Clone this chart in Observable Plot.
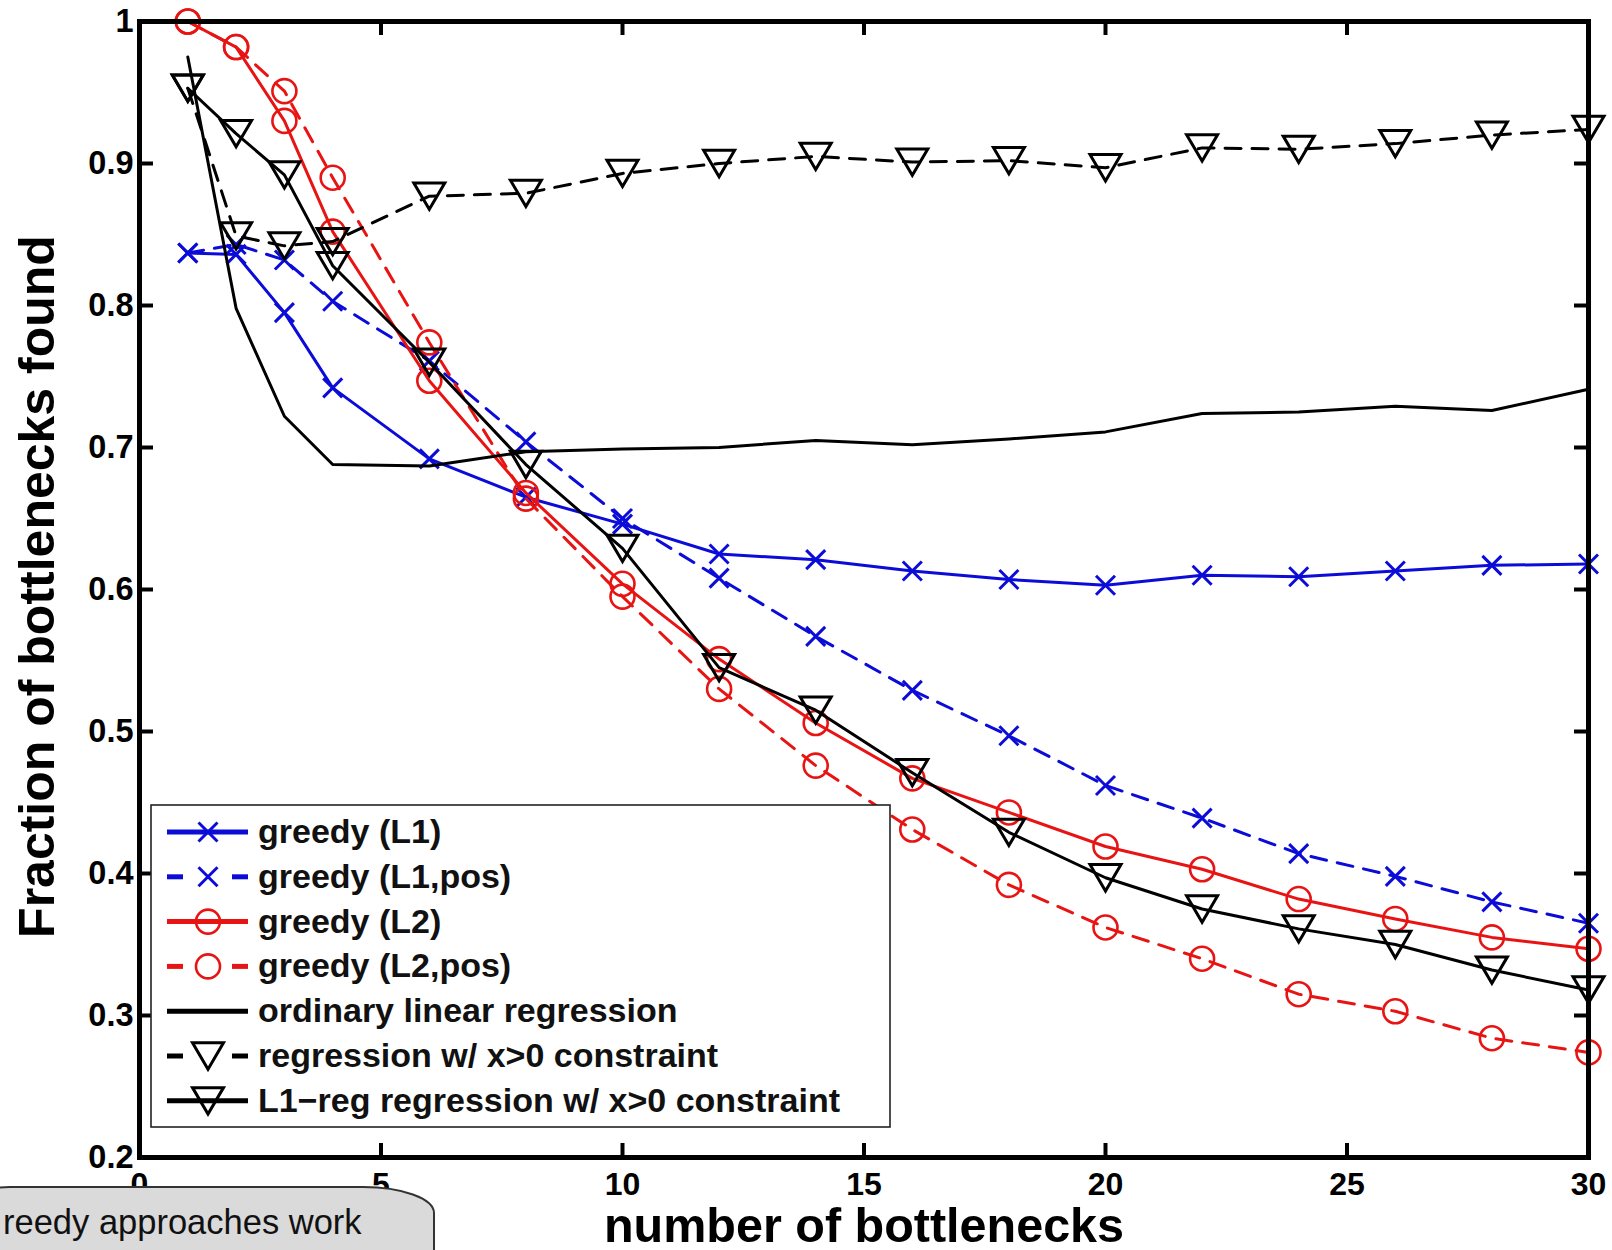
<!DOCTYPE html>
<html>
<head>
<meta charset="utf-8">
<script src="https://cdn.jsdelivr.net/npm/d3@7"></script>
<script src="https://cdn.jsdelivr.net/npm/@observablehq/plot@0.6"></script>
<style>
  html, body { margin: 0; padding: 0; background: #fff; }
  #wrap { position: relative; width: 1612px; height: 1250px; overflow: hidden; }
</style>
</head>
<body>
<div id="wrap"></div>
<script>
// ---------------- data ----------------
const xs = [1, 2, 3, 4, 6, 8, 10, 12, 14, 16, 18, 20, 22, 24, 26, 28, 30];

const greedyL1    = [0.837, 0.836, 0.795, 0.742, 0.692, 0.665, 0.646, 0.625, 0.621, 0.613, 0.607, 0.603, 0.610, 0.609, 0.613, 0.617, 0.618];
const greedyL1pos = [0.837, 0.843, 0.832, 0.803, 0.761, 0.704, 0.650, 0.608, 0.567, 0.529, 0.497, 0.462, 0.439, 0.414, 0.398, 0.380, 0.365];
const greedyL2    = [1.000, 0.982, 0.930, 0.852, 0.747, 0.668, 0.604, 0.551, 0.506, 0.467, 0.443, 0.419, 0.403, 0.382, 0.368, 0.355, 0.347];
const greedyL2pos = [1.000, 0.982, 0.951, 0.890, 0.774, 0.664, 0.595, 0.530, 0.476, 0.431, 0.392, 0.362, 0.340, 0.315, 0.303, 0.284, 0.274];
const ordinaryLR  = [0.975, 0.798, 0.722, 0.688, 0.687, 0.697, 0.699, 0.700, 0.705, 0.702, 0.706, 0.711, 0.724, 0.725, 0.729, 0.726, 0.741];
const regPos      = [0.953, 0.849, 0.842, 0.845, 0.877, 0.879, 0.893, 0.900, 0.905, 0.901, 0.902, 0.897, 0.911, 0.910, 0.914, 0.920, 0.924];
const l1RegPos    = [0.953, 0.921, 0.892, 0.828, 0.760, 0.688, 0.629, 0.545, 0.515, 0.471, 0.429, 0.397, 0.375, 0.361, 0.350, 0.332, 0.318];

const seriesNames = [
  "greedy (L1)",
  "greedy (L1,pos)",
  "greedy (L2)",
  "greedy (L2,pos)",
  "ordinary linear regression",
  "regression w/ x>0 constraint",
  "L1\u2212reg regression w/ x>0 constraint"
];
const seriesValues = [greedyL1, greedyL1pos, greedyL2, greedyL2pos, ordinaryLR, regPos, l1RegPos];

const xTicks = [0, 5, 10, 15, 20, 25, 30];
const yTicks = [0.2, 0.3, 0.4, 0.5, 0.6, 0.7, 0.8, 0.9, 1.0];
const xLabel = "number of bottlenecks";
const yLabel = "Fraction of bottlenecks found";
const calloutText = "reedy approaches work";

// ---------------- styles ----------------
const BLUE = "#0c0cd8", RED = "#e81414", BLACK = "#000";
const DASH = "16,11";
const xMark = {draw(ctx, size) { const r = Math.sqrt(size / Math.PI); ctx.moveTo(-r, -r); ctx.lineTo(r, r); ctx.moveTo(-r, r); ctx.lineTo(r, -r); }};
const triDown = {draw(ctx, size) { const r = Math.sqrt(size / Math.PI); const h = r * 1.7; ctx.moveTo(-r, -h / 2); ctx.lineTo(r, -h / 2); ctx.lineTo(0, h / 2); ctx.closePath(); }};
const styles = [
  {stroke: BLUE, dash: null, symbol: xMark, r: 9.5, sw: 3},
  {stroke: BLUE, dash: DASH, symbol: xMark, r: 9.5, sw: 3},
  {stroke: RED, dash: null, symbol: "circle", r: 12, sw: 2.6},
  {stroke: RED, dash: DASH, symbol: "circle", r: 12, sw: 2.6},
  {stroke: BLACK, dash: null, symbol: null, r: 0, sw: 0},
  {stroke: BLACK, dash: DASH, symbol: triDown, r: 15.5, sw: 3},
  {stroke: BLACK, dash: null, symbol: triDown, r: 15.5, sw: 3}
];

// ---------------- layout ----------------
const W = 1612, H = 1250;
const mL = 139, mR = 24, mT = 21, mB = 93;
const frameW = W - mL - mR, frameH = H - mT - mB;
const T = 14; // inward tick length

const seriesMarks = [];
seriesValues.forEach((vals, i) => {
  const rows = xs.map((x, j) => ({x, y: vals[j]}));
  const s = styles[i];
  seriesMarks.push(Plot.line(rows, {x: "x", y: "y", stroke: s.stroke, strokeWidth: 3, strokeDasharray: s.dash, strokeLinejoin: "round"}));
  if (s.symbol) {
    seriesMarks.push(Plot.dot(rows, {x: "x", y: "y", symbol: s.symbol, r: s.r, stroke: s.stroke, strokeWidth: s.sw, fill: "none"}));
  }
});

const chart = Plot.plot({
  width: W, height: H,
  marginLeft: mL, marginRight: mR, marginTop: mT, marginBottom: mB,
  style: {fontFamily: "'Liberation Sans', Arial, sans-serif", background: "#fff", color: "#000"},
  x: {domain: [0, 30]},
  y: {domain: [0.2, 1]},
  marks: [
    Plot.axisX({ticks: xTicks, tickSize: 0, tickPadding: 15, fontSize: 32, fontWeight: "bold", label: null, tickFormat: d => String(d)}),
    Plot.axisY({ticks: yTicks, tickSize: 0, tickPadding: 6, fontSize: 32.5, fontWeight: "bold", label: null, tickFormat: d => d === 1 ? "1" : d.toFixed(1)}),
    Plot.text([xLabel], {text: d => d, frameAnchor: "bottom", textAnchor: "middle", lineAnchor: "middle", dy: 69, fontSize: 48.5, fontWeight: "bold"}),
    Plot.text([yLabel], {text: d => d, frameAnchor: "left", textAnchor: "middle", lineAnchor: "middle", dx: -102, dy: -3, rotate: -90, fontSize: 50, fontWeight: "bold"}),
    ...seriesMarks,
    Plot.tickX(xTicks, {x: d => d, insetTop: frameH - T, stroke: BLACK, strokeWidth: 4}),
    Plot.tickX(xTicks, {x: d => d, insetBottom: frameH - T, stroke: BLACK, strokeWidth: 4}),
    Plot.tickY(yTicks, {y: d => d, insetRight: frameW - T, stroke: BLACK, strokeWidth: 4}),
    Plot.tickY(yTicks, {y: d => d, insetLeft: frameW - T, stroke: BLACK, strokeWidth: 4}),
    Plot.frame({stroke: BLACK, strokeWidth: 5})
  ]
});

// ---------------- legend (annotation, pixel layout) ----------------
const svg = d3.select(chart);
const lg = svg.append("g").attr("class", "legend");
const box = {x: 151, y: 805, w: 739, h: 322};
lg.append("rect").attr("x", box.x).attr("y", box.y).attr("width", box.w).attr("height", box.h)
  .attr("fill", "#fff").attr("stroke", "#222").attr("stroke-width", 1.6);
const rowY0 = 832, rowStep = 44.8, lx0 = 167, lx1 = 248, mx = 208, tx = 258;
seriesNames.forEach((name, i) => {
  const s = styles[i];
  const y = rowY0 + i * rowStep;
  if (s.dash) {
    lg.append("line").attr("x1", lx0).attr("x2", lx0 + 16).attr("y1", y).attr("y2", y).attr("stroke", s.stroke).attr("stroke-width", 5);
    lg.append("line").attr("x1", lx1 - 16).attr("x2", lx1).attr("y1", y).attr("y2", y).attr("stroke", s.stroke).attr("stroke-width", 5);
  } else {
    lg.append("line").attr("x1", lx0).attr("x2", lx1).attr("y1", y).attr("y2", y).attr("stroke", s.stroke).attr("stroke-width", 5);
  }
  if (s.symbol) {
    const sym = s.symbol === "circle" ? d3.symbolCircle : s.symbol;
    lg.append("path").attr("transform", `translate(${mx},${y})`)
      .attr("d", d3.symbol(sym, Math.PI * s.r * s.r)())
      .attr("fill", "none").attr("stroke", s.stroke).attr("stroke-width", s.sw);
  }
  lg.append("text").attr("x", tx).attr("y", y + 11)
    .attr("text-anchor", "start")
    .attr("font-size", 34).attr("font-weight", "bold").attr("fill", "#111")
    .text(name);
});

// ---------------- callout fragment at bottom-left ----------------
const co = svg.append("g").attr("class", "callout");
co.append("path")
  .attr("d", "M -20 1262 L -20 1205 Q -20 1187 10 1187 L 362 1187 A 71 26 0 0 1 434 1213 L 434 1262 Z")
  .attr("fill", "#dadada").attr("stroke", "#333").attr("stroke-width", 2);
co.append("text").attr("x", 3).attr("y", 1234)
  .attr("text-anchor", "start")
  .attr("font-size", 34.5).attr("font-family", "'Liberation Sans', Arial, sans-serif").attr("fill", "#111")
  .text(calloutText);

document.getElementById("wrap").appendChild(chart);
</script>
</body>
</html>
